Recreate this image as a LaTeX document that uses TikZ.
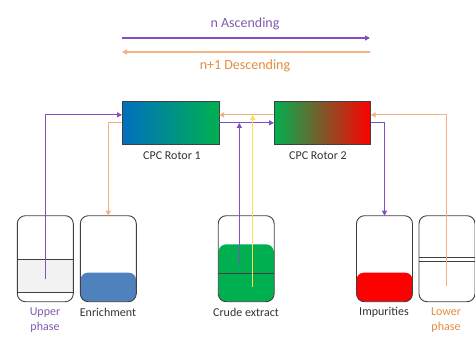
\documentclass[tikz,border=0pt]{standalone}
\usepackage{fontspec}
\setmainfont{Carlito}
\usetikzlibrary{arrows.meta}
\definecolor{purp}{RGB}{130,80,190}
\definecolor{purptxt}{RGB}{128,90,175}
\definecolor{orng}{RGB}{244,177,131}
\definecolor{orngtxt}{RGB}{226,140,62}
\definecolor{yell}{RGB}{255,220,90}
\definecolor{outl}{RGB}{64,64,64}
\definecolor{txtgray}{RGB}{50,50,50}
\definecolor{rblue}{RGB}{0,112,192}
\definecolor{rgreen}{RGB}{0,176,80}
\definecolor{rred}{RGB}{255,0,0}
\definecolor{efill}{RGB}{79,129,189}
\definecolor{gfill}{RGB}{242,242,242}
\tikzset{
  every node/.style={inner sep=0pt, outer sep=0pt},
  rotor/.style={draw=outl, line width=0.9pt, minimum height=42.3pt, rectangle},
  vessel/.style={draw=outl, line width=0.9pt, rounded corners=8pt, minimum width=56pt, minimum height=86pt, rectangle},
  lbl/.style={font=\fontsize{12}{15}\selectfont, text=txtgray, align=center},
  conn/.style={line width=1.1pt, -{Triangle[length=5pt,width=5pt]}},
  pline/.style={conn, draw=purp},
  oline/.style={conn, draw=orng},
  yline/.style={conn, draw=yell},
}
\begin{document}
\begin{tikzpicture}[x=1pt,y=-1pt]
\useasboundingbox (0,0) rectangle (475,341);
% top legend
\coordinate (a1) at (122,38);
\coordinate (a2) at (370,38);
\coordinate (b1) at (370,52);
\coordinate (b2) at (122,52);
\draw[pline] (a1) -- (a2);
\draw[oline] (b1) -- (b2);
\node[font=\fontsize{14}{16}\selectfont, text=purptxt] (asc) at (245,24) {n Ascending};
\node[font=\fontsize{14}{16}\selectfont, text=orngtxt] (desc) at (245,66) {n+1 Descending};
% rotors
\node[rotor, minimum width=97pt, left color=rblue, right color=rgreen] (r1) at (170.5,122.85) {};
\node[rotor, minimum width=96.7pt, left color=rgreen, right color=rred] (r2) at (322.35,122.85) {};
\node[lbl] (r1l) at (172,156) {CPC Rotor 1};
\node[lbl] (r2l) at (318,156) {CPC Rotor 2};
\coordinate (r1wu) at ([yshift=8pt]r1.west);
\coordinate (r1eu) at ([yshift=8pt]r1.east);
\coordinate (r2wu) at ([yshift=8pt]r2.west);
\coordinate (r2eu) at ([yshift=8pt]r2.east);
% vessel fills
\fill[gfill] (17.3,259) rectangle (73.3,292.7);
\fill[efill, rounded corners=7pt] (80.7,272.7) rectangle (136,301.7);
\fill[rgreen, rounded corners=8pt] (218.3,244.3) rectangle (274,301.7);
\fill[rred, rounded corners=7pt] (356.7,272.7) rectangle (412.3,301.7);
% vessels
\node[vessel] (v1) at (45.3,258.7) {};
\node[vessel] (v2) at (108.3,258.7) {};
\node[vessel] (v3) at (246.2,258.7) {};
\node[vessel] (v4) at (384.5,258.7) {};
\node[vessel] (v5) at (447,258.7) {};
\draw[outl, line width=0.9pt] (17.3,259) -- (73.3,259);
\draw[outl, line width=0.9pt] (17.3,292.7) -- (73.3,292.7);
\draw[outl, line width=0.9pt] (218.3,273) -- (274,273);
\draw[outl, line width=0.7pt] (419,257.3) -- (475,257.3);
\draw[outl, line width=0.7pt] (419,261) -- (475,261);
% vessel labels
\node[lbl, text=purptxt] (v1l) at (45,320) {Upper\\phase};
\node[lbl] (v2l) at (108,312.7) {Enrichment};
\node[lbl] (v3l) at (246,312.7) {Crude extract};
\node[lbl] (v4l) at (384,312.7) {Impurities};
\node[lbl, text=orngtxt] (v5l) at (446,320) {Lower\\phase};
% connectors
\coordinate (p1) at (45.3,279);
\coordinate (p3) at (239.3,265);
\coordinate (y3) at (252.7,287);
\coordinate (o5) at (446.7,286);
\draw[pline] (p1) |- (r1wu);
\draw[oline] (r1.west) -| (v2.north);
\draw[oline] (r2wu) -- (r1eu);
\draw[pline] (r1.east) -- (r2.west);
\draw[pline] (p3) -- (p3 |- r1.east);
\draw[yline] (y3) -- (y3 |- r1eu);
\draw[pline] (r2.east) -| (v4.north);
\draw[oline] (o5) |- (r2eu);
\end{tikzpicture}
\end{document}
